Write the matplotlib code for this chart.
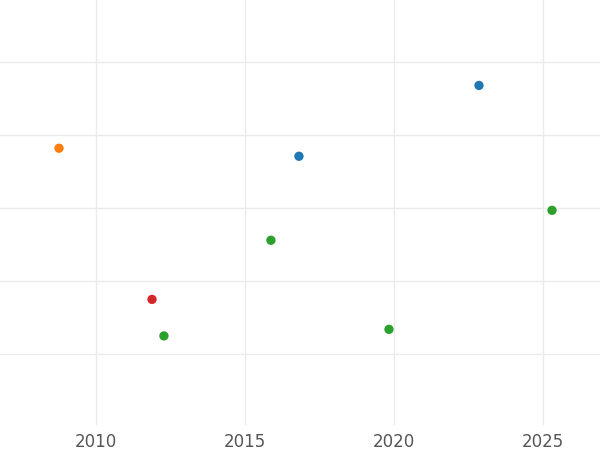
import matplotlib
matplotlib.use("Agg")
import matplotlib.pyplot as plt

years = [2008.76, 2016.81, 2022.85, 2025.30, 2015.87, 2011.88, 2012.28, 2019.83]
values = [2.82, 2.71, 3.68, 1.97, 1.56, 0.75, 0.25, 0.34]
colors = ["#ff7f0e", "#1f77b4", "#1f77b4", "#2ca02c", "#2ca02c", "#d62728", "#2ca02c", "#2ca02c"]
xticks = [2010, 2015, 2020, 2025]
yticks = [0, 1, 2, 3, 4]

fig = plt.figure(figsize=(6, 4.5), dpi=100)
ax = fig.add_axes([0, 1 - 425/450, 1, 425/450])
ax.scatter(years, values, c=colors, s=45, zorder=3, edgecolors="none")
ax.set_xlim(2006.78, 2026.91)
ax.set_ylim(-0.97, 4.85)
ax.set_xticks(xticks)
ax.set_yticks(yticks)
ax.set_yticklabels([])
ax.grid(True, color="#ebebeb", linewidth=1)
ax.set_axisbelow(True)
for s in ax.spines.values():
    s.set_visible(False)
ax.tick_params(length=0, labelsize=12, labelcolor="#555555", pad=6)
fig.savefig("out.png", dpi=100)
